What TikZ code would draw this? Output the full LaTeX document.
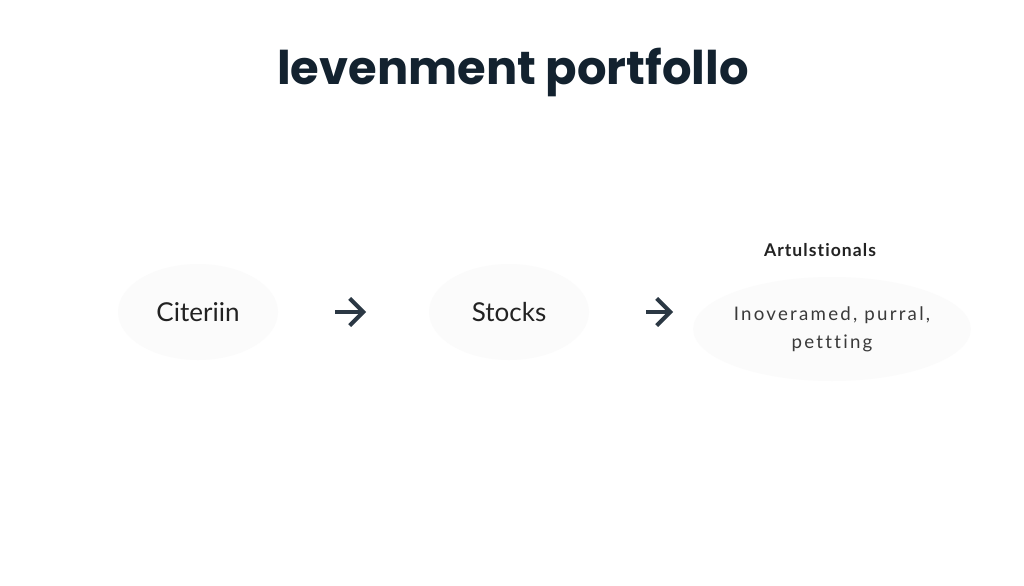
\documentclass[tikz,border=0pt]{standalone}
\usepackage{fontspec}
\setmainfont{Lato}[Ligatures=NoCommon]
\newfontfamily\titlefont{Poppins}[Ligatures=NoCommon]
\usetikzlibrary{shapes.geometric, arrows.meta, positioning}
\definecolor{inkdark}{HTML}{13222F}
\definecolor{inktext}{HTML}{222222}
\definecolor{inksoft}{HTML}{3A3A3A}
\definecolor{glow}{HTML}{FBFBFB}
\tikzstyle{heading} = [
  text=inkdark,
  font=\titlefont\fontsize{33}{38}\selectfont\bfseries,
  inner sep=0
]
\tikzstyle{stage} = [
  ellipse,
  minimum width=4cm,
  minimum height=2.4cm,
  text centered,
  fill=glow,
  text=inktext,
  font=\fontsize{18.5}{22}\selectfont,
  inner sep=0
]
\tikzstyle{outcome} = [
  ellipse,
  minimum width=5.6cm,
  minimum height=2.6cm,
  text centered,
  align=center,
  fill=glow,
  text=inksoft,
  font=\fontsize{13.3}{20}\selectfont\addfontfeatures{LetterSpace=12},
  inner sep=0
]
\tikzstyle{sublabel} = [
  text=inktext,
  font=\fontsize{12.5}{15}\selectfont\bfseries\addfontfeatures{LetterSpace=6},
  inner sep=0
]
\tikzstyle{arrow} = [
  line width=2.8pt,
  -{Straight Barb[length=3.4mm, width=6.8mm]},
  draw=inkdark!90
]

\begin{document}
\begin{tikzpicture}[node distance=1.5cm]
    \useasboundingbox [fill=white] (0,0) rectangle (25.6,14.625);

    \node (title) [heading] at (12.825,12.825) {levenment portfollo};
    \node (criteria) [stage] at (4.95,6.825) {Citeriin};
    \node (stocks) [stage, right of=criteria, xshift=6.275cm] {Stocks};
    \node (result) [outcome, right of=stocks, xshift=6.575cm, yshift=-0.425cm] {Inoveramed, purral,\\pettting};
    \node (resulthead) [sublabel, above of=result, xshift=-0.3cm, yshift=0.475cm] {Artulstionals};

    \draw [arrow, shorten <=3.425cm, shorten >=3.575cm] (criteria.center) -- (stocks.center);
    \draw [arrow, shorten <=3.425cm, shorten >=3.975cm] (stocks.center) -- (stocks.center -| result.center);

\end{tikzpicture}
\end{document}
